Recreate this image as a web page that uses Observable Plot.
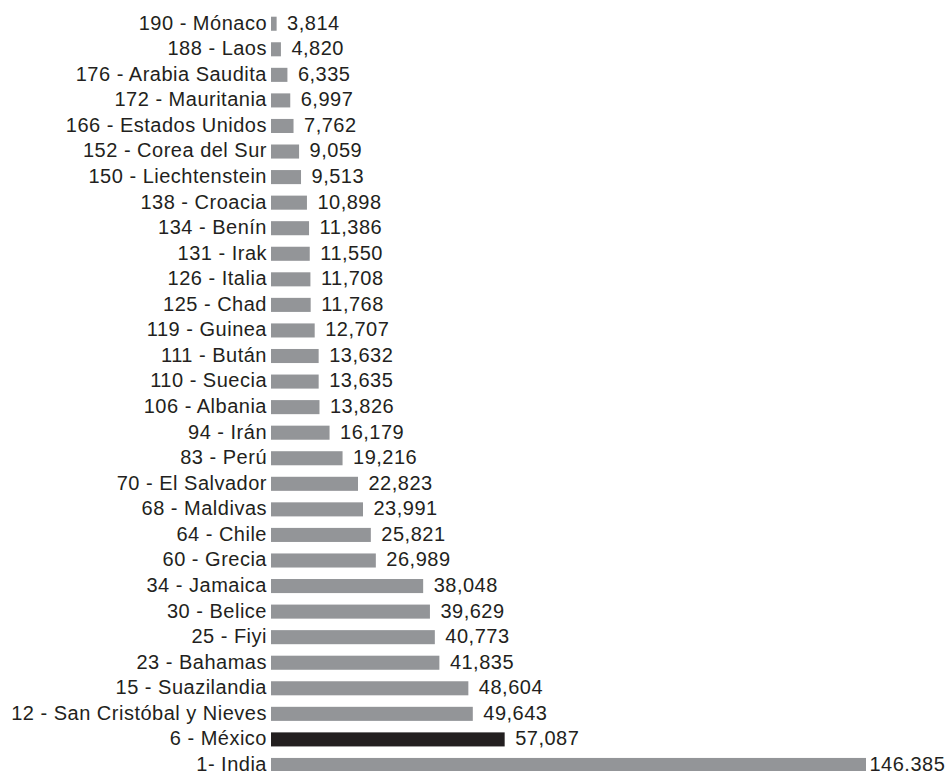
<!DOCTYPE html>
<html>
<head>
<meta charset="utf-8">
<script src="https://cdn.jsdelivr.net/npm/d3@7"></script>
<script src="https://cdn.jsdelivr.net/npm/@observablehq/plot@0.6"></script>
<style>
  html, body { margin: 0; padding: 0; background: #fff; overflow: hidden; }
  svg { display: block; }
</style>
</head>
<body>
<div id="chart"></div>
<script>
const categories = [
  "190 - Mónaco", "188 - Laos", "176 - Arabia Saudita", "172 - Mauritania",
  "166 - Estados Unidos", "152 - Corea del Sur", "150 - Liechtenstein",
  "138 - Croacia", "134 - Benín", "131 - Irak", "126 - Italia", "125 - Chad",
  "119 - Guinea", "111 - Bután", "110 - Suecia", "106 - Albania", "94 - Irán",
  "83 - Perú", "70 - El Salvador", "68 - Maldivas", "64 - Chile", "60 - Grecia",
  "34 - Jamaica", "30 - Belice", "25 - Fiyi", "23 - Bahamas", "15 - Suazilandia",
  "12 - San Cristóbal y Nieves", "6 - México", "1- India"
];
const values = [
  3.814, 4.820, 6.335, 6.997, 7.762, 9.059, 9.513, 10.898, 11.386, 11.550,
  11.708, 11.768, 12.707, 13.632, 13.635, 13.826, 16.179, 19.216, 22.823,
  23.991, 25.821, 26.989, 38.048, 39.629, 40.773, 41.835, 48.604, 49.643,
  57.087, 146.385
];
const valueLabels = [
  "3,814", "4,820", "6,335", "6,997", "7,762", "9,059", "9,513", "10,898",
  "11,386", "11,550", "11,708", "11,768", "12,707", "13,632", "13,635",
  "13,826", "16,179", "19,216", "22,823", "23,991", "25,821", "26,989",
  "38,048", "39,629", "40,773", "41,835", "48,604", "49,643", "57,087",
  "146.385"
];
const highlight = "6 - México";

const xDomain = [2.5, 141.5];
const data = categories.map((c, i) => ({label: c, value: values[i], text: valueLabels[i]}));
const inside = data.filter(d => d.value <= xDomain[1]);
const outside = data.filter(d => d.value > xDomain[1]);
const fs = 20;

const chart = Plot.plot({
  width: 947,
  height: 771,
  marginLeft: 271,
  marginRight: 81,
  marginTop: 0,
  marginBottom: 0,
  style: {fontFamily: "'Liberation Sans', Arial, sans-serif", fontSize: fs + "px", letterSpacing: "0.5px", color: "#231f20", background: "#fff"},
  x: {domain: xDomain, axis: null},
  y: {domain: categories, range: [5.2, 783.5], padding: 0.45, round: false, label: null},
  marks: [
    Plot.barX(data, {
      y: "label", x: "value", clip: true,
      fill: d => d.label === highlight ? "#231f20" : "#939598"
    }),
    Plot.axisY({tickSize: 0, tickPadding: 4.5, fontSize: fs, fill: "#231f20", label: null, dy: -1}),
    Plot.text(inside, {
      y: "label", x: "value", text: "text", textAnchor: "start", dx: 10, dy: -1,
      fill: "#231f20", fontSize: fs
    }),
    Plot.text(outside, {
      y: "label", frameAnchor: "right", text: "text", textAnchor: "start", dx: 3, dy: -1,
      fill: "#231f20", fontSize: fs
    })
  ]
});
document.getElementById("chart").append(chart);
</script>
</body>
</html>
